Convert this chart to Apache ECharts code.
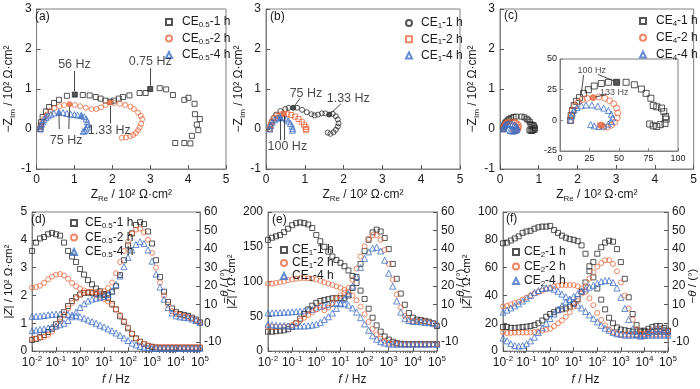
<!DOCTYPE html>
<html><head><meta charset="utf-8">
<script src="https://cdn.jsdelivr.net/npm/echarts@6.0.0/dist/echarts.min.js"></script>
<style>html,body{margin:0;padding:0;background:#fff}#c{width:700px;height:389px}</style>
</head><body><div id="c"></div>
<script>
// ---------------- DATA ----------------
// Nyquist (a) CE0.5 : [Z_Re, -Z_Im] in 10^2 ohm cm2
const nyqA1 = [[0.1,0.0],[0.11,0.08],[0.12,0.17],[0.16,0.3],[0.25,0.44],[0.33,0.55],[0.46,0.65],[0.59,0.73],[0.8,0.83],[1.22,0.85],[1.4,0.84],[1.56,0.8],[1.69,0.76],[1.82,0.71],[1.95,0.68],[2.04,0.71],[2.17,0.76],[2.28,0.8],[2.45,0.84],[2.72,0.9],[2.88,0.9],[3.25,1.02],[3.42,0.99],[3.6,0.85],[3.9,0.73],[4.01,0.78],[4.17,0.63],[4.18,0.37],[4.31,0.25],[4.23,0.11],[4.27,-0.03],[4.1,-0.17],[4.06,-0.36],[3.9,-0.35],[3.66,-0.35]];
const nyqA2 = [[0.1,0],[0.12,0.08],[0.15,0.16],[0.2,0.26],[0.27,0.36],[0.36,0.45],[0.47,0.52],[0.6,0.57],[0.73,0.6],[1.01,0.6],[1.15,0.57],[1.3,0.53],[1.45,0.5],[1.58,0.5],[1.7,0.54],[1.82,0.6],[2.04,0.65],[2.2,0.63],[2.34,0.6],[2.48,0.56],[2.57,0.5],[2.68,0.41],[2.75,0.33],[2.79,0.25],[2.76,0.13],[2.72,0.04],[2.68,-0.03],[2.62,-0.1],[2.55,-0.15],[2.47,-0.18],[2.36,-0.21],[2.25,-0.22]];
const nyqA3 = [[0.1,0],[0.11,0.06],[0.13,0.12],[0.16,0.18],[0.2,0.24],[0.25,0.29],[0.31,0.33],[0.38,0.37],[0.46,0.4],[0.7,0.41],[0.8,0.39],[0.9,0.37],[1.0,0.36],[1.08,0.35],[1.26,0.31],[1.31,0.25],[1.34,0.18],[1.35,0.11],[1.34,0.05],[1.31,0.0],[1.27,-0.04],[1.23,-0.06]];
const markA1 = [[1.01,0.86],[3.0,1.0]];
const markA2 = [[0.87,0.62],[1.93,0.66]];
const markA3 = [[0.59,0.42],[1.18,0.34]];
// Nyquist (b) CE1
const nyqB1 = [[0.1,0],[0.11,0.08],[0.14,0.17],[0.19,0.27],[0.26,0.36],[0.37,0.45],[0.5,0.5],[0.58,0.53],[0.8,0.53],[0.93,0.48],[1.05,0.42],[1.17,0.37],[1.25,0.34],[1.34,0.36],[1.44,0.39],[1.53,0.39],[1.72,0.38],[1.8,0.32],[1.85,0.24],[1.87,0.14],[1.85,0.06],[1.8,-0.02],[1.74,-0.08],[1.66,-0.12],[1.59,-0.09]];
const nyqB2 = [[0.1,0],[0.12,0.1],[0.16,0.19],[0.22,0.27],[0.29,0.33],[0.37,0.36],[0.55,0.37],[0.65,0.35],[0.75,0.31],[0.84,0.25],[0.92,0.18],[0.98,0.11],[1.02,0.05],[1.04,0.0],[1.03,-0.03]];
const nyqB3 = [[0.1,0],[0.12,0.09],[0.16,0.17],[0.22,0.23],[0.3,0.27],[0.45,0.28],[0.52,0.25],[0.58,0.2],[0.63,0.14],[0.67,0.07],[0.69,0.01],[0.68,-0.03]];
const markB1 = [[0.7,0.53],[1.63,0.36]];
const markB2 = [[0.46,0.38]];
const markB3 = [[0.37,0.29]];
// Nyquist (c) CE4 : in ohm cm2 (shown /100 on main axes, raw in inset)
const nyqC1 = [[9,0],[9.5,4],[10.5,8],[12,12],[14,15.5],[16.5,18.5],[20,22],[24,25],[29,28],[35,30],[41,31],[56,31],[63,29],[69,25.5],[73,22],[77,18],[79,12],[82,11],[86,10],[88,7],[89.5,3],[90,1],[89,-2.5],[85,-3.5],[82,-5],[79,-4.5],[76,-3]];
const nyqC2 = [[9,0],[9.5,4],[10.5,8],[12.5,12],[15.5,15],[19,17],[23,18],[33,19],[38,18],[42,16],[45.5,13.5],[48,10],[49,6],[48.5,2],[46.5,-1.5],[43.5,-4],[40,-5.5],[37,-5.5],[34,-4]];
const nyqC3 = [[9,0],[9.5,3],[10.5,6],[12,8.5],[14.5,10.5],[18,12],[22,12.5],[27,12.5],[32,11.5],[37,10],[41,8],[43.5,5],[44.5,2],[43.5,-1],[41,-3],[37,-4.5],[33,-5],[29,-4.5],[26,-3.5]];
const markC1 = [[48,31]];
const markC2 = [[28,18.5],[35,-4]];

// Bode: frequencies (Hz)
const freqs = [0.01,0.0147,0.0215,0.0316,0.0464,0.0681,0.1,0.147,0.215,0.316,0.464,0.681,1,1.47,2.15,3.16,4.64,6.81,10,14.7,21.5,31.6,46.4,68.1,100,147,215,316,464,681,1000,1470,2150,3160,4640,6810,10000,14700,21500,31600,46400,68100,100000];
const decades = [0.01,0.1,1,10,100,1000,10000,100000];
// (d) CE0.5 : |Z| in 10^2 ohm cm2, phase in deg
const dZ1 = [3.6,3.9,4.05,4.1,4.2,4.25, 4.2,4.15,3.9,3.6,3.4,3.2, 2.95,2.75,2.55,2.4,2.25,2.15, 2.05,1.9,1.7,1.5,1.25,1.05, 0.82,0.62,0.46,0.34,0.25,0.19, 0.15,0.13,0.12,0.12,0.12,0.12, 0.12,0.12,0.12,0.12,0.12,0.12, 0.12];
const dP1 = [-9,-8.5,-7.5,-6.3,-4.7,-3, -0.5,2.5,6,9.3,12,14, 15.5,16.3,16.5,16.5,16,15.5, 15.3,15.5,17,20,26,34, 42,48.5,53,54.5,53.5,49.5, 43,34,25,17,11.5,8, 6,5,4.5,4,3,2, 0.5];
const dZ2 = [2.28,2.3,2.35,2.45,2.58,2.68, 2.75,2.77,2.72,2.6,2.45,2.33, 2.25,2.18,2.12,2.07,2.02,1.95, 1.88,1.78,1.65,1.5,1.3,1.08, 0.85,0.63,0.46,0.34,0.26,0.2, 0.17,0.16,0.15,0.15,0.15,0.15, 0.15,0.15,0.15,0.15,0.15,0.15, 0.15];
const dP2 = [-8.5,-8.2,-7.8,-7.3,-6.3,-4.5, -2,1,4.5,8,11,13.5, 15.5,16.5,17,17,16.8,16.8, 17.3,19,22,27,33,39, 44,48.5,50.5,51,49,45, 38,30,22,15,10,6.5, 5,4.5,4,3.5,2.5,1.5, 0.5];
const dZ3 = [1.25,1.25,1.26,1.28,1.3,1.32, 1.33,1.33,1.33,1.32,1.3,1.27, 1.23,1.18,1.12,1.06,1.0,0.93, 0.87,0.8,0.73,0.65,0.57,0.47, 0.38,0.29,0.22,0.17,0.14,0.12, 0.11,0.1,0.1,0.1,0.1,0.1, 0.1,0.1,0.1,0.1,0.1,0.1, 0.1];
const dP3 = [-4,-3.7,-3.3,-3,-2.5,-2, -1.5,-0.8,0,1.5,3.5,6, 8.5,10.5,12,13,13.5,14, 14.5,15.5,17.5,21,25.5,30.5, 35.5,39.5,42.5,44,43,39.5, 33.5,26.5,19.5,13,8.5,5.5, 4,3.5,3.2,3,2.3,1.5, 0.5];
// (e) CE1 : |Z| in ohm cm2
const eZ1 = [160,163,165,167,171,176, 181,184,185,184,182,177, 167,158,150,143,136,131, 127,122,116,108,98,87, 75,61,48,37,28,21, 16.5,13.5,11.5,10.5,10,10, 10,10,10,10,10,10, 10];
const eP1 = [-4.5,-4.5,-4.3,-4,-3.8,-3.2, -2,0,2.5,5,7.5,9.5, 11,12,12.5,13,13.5,13.5, 13.5,13.5,15,19,25,32, 39,45,49,50.5,49.5,46, 40,32,24,16,10,5.5, 3,2,1.7,1.3,0.8,0, -1.5];
const eZ2 = [97,97,98,99,100,102, 103,104,105,105,104.5,104, 103,101,99,97,95,93, 91,88,85,80,73,64, 53,42,32,24,18,14, 12,11,10.5,10,10,10, 10,10,10,10,10,10, 10];
const eP2 = [-2,-2,-2,-2,-1.8,-1.5, -1,0,1.5,3,4.5,6, 7.5,9.5,7,8.5,11,13.5, 15,16.5,19,23.5,29.5,36, 41.5,45.5,47.5,47.5,45,39.5, 32,23.5,15.5,8.5,4,2, 1.2,1,1,0.8,0.5,0, -1];
const eZ3 = [55,55,55,55.5,56,56, 56.5,57,57.5,58,59,60, 62,64,66,67.5,68.5,69, 69,68,66,62,56,48, 39,30,22,17,13.5,11.5, 10.5,10,10,10,10,10, 10,10,10,10,10,10, 10];
const eP3 = [-0.5,-0.8,-1,-1.2,-1.3,-1.5, -1.5,-1.5,-1.5,-1.5,-1.3,-1, -0.5,0.5,2,3.5,5.5,8, 10.5,13,16,20,25,30, 35,38.5,40.5,41,39,34, 27,20,12,6,2.5,1.5, 1,1,0.8,0.5,0.3,0, -0.5];
// (f) CE2 : |Z| in ohm cm2
const fZ1 = [77.5,78,79.5,81,82.5,85, 86,86.5,88,89,89.5,89.5, 90,87,85,83,81.5,80.5, 80,79,76,70,61,53, 45,37,30,24,20,17, 15.5,15,14.5,14,14,14, 14,14,14,14,14,14, 14];
const fP1 = [-2,-2,-2.5,-2.5,-2.3,-2, -1.8,-1.5,-1,0,1.5,3.5, 5,6,7,7.5,8,9, 10.5,13,17,22,28,33, 37.5,41,43.5,44.5,44,40, 33,24,14,5,-1,-4, -4,-3,-2,-1.5,-1.5,-2.5, -4];
const fZ2 = [32,32.5,33.5,34.5,35.5,37, 38.5,40,41.5,42.5,43.5,44.5, 45.5,46.5,47,47.5,47.5,47.5, 47.5,46.5,45,42.5,38,33, 27.5,22.5,18.5,15.5,13.5,12.5, 12,12,12,12,12,12, 12,12,12,12,12,12, 12];
const fP2 = [-5,-5.3,-5.2,-5,-5,-5, -5,-5,-4.8,-4.5,-4,-3.5, -3,-1.5,0,1.5,3.5,6, 9,12,16,20,24,27.5, 30.5,32.5,34,34,32,28, 22,15,8,2,-3,-5.5, -6,-5,-4,-3,-3,-3.5, -4.5];
const fZ3 = [28,29.5,31,32.5,34,36, 38,40,42,43.5,45,45.5, 45.5,44.5,43,41,39,37, 35,33,31,28.5,26,23.5, 21,18.5,16.5,15,13.5,12.5, 12,11.5,11.5,11.5,11.5,11.5, 11.5,11.5,11.5,11.5,11.5,11.5, 11.5];
const fP3 = [-8,-9.5,-11,-12,-12.3,-12, -11,-9.5,-7.5,-5,-2.5,0, 2.5,5,7.5,9.5,11.5,13, 14.5,16,17.5,18.5,19.5,20.5, 21.5,22.5,23,23,22,19, 14,8,2,-3,-6,-7, -6.5,-5,-4,-3,-3,-3.5, -4.5];

// annotations: [text, x, y] and arrows [x1,y1,x2,y2]
const annA = [['56 Hz',1.0,1.6],['0.75 Hz',3.0,1.68],['75 Hz',0.78,-0.29],['1.33 Hz',1.92,-0.03]];
const arrA = [[1.0,1.45,1.0,0.95],[3.0,1.52,3.0,1.08],[0.6,0.0,0.59,0.36],[0.85,0.0,0.87,0.56],[1.94,0.14,1.94,0.58]];
const annB = [['75 Hz',1.03,0.88],['1.33 Hz',2.12,0.75],['100 Hz',0.55,-0.45]];
const arrB = [[0.88,0.77,0.74,0.58],[1.93,0.63,1.68,0.4],[0.37,-0.28,0.37,0.24],[0.47,-0.28,0.46,0.33]];
const annC = [['100 Hz',27,41],['133 Hz',46,23]];
const lineC = [[32,37.5,46,32],[20,37,18,21],[39,21,30,19]];

// ---------------- STYLE / BUILD ----------------
const FONT = 'Liberation Sans, Arial, sans-serif';
const INK = '#1a1a1a', AX = '#808080';
const K = '#2a2a2a', O = '#e8693f', B = '#3e6fc6';
const TICK = 12, TITLE = 12, BTITLE = 11.5;

function rich(size, gap){
  const s = Math.round(size*0.68);
  return {
    s:{fontSize:s, lineHeight:s, verticalAlign:'bottom', fontFamily:FONT, color:INK},
    p:{fontSize:s, lineHeight:s, verticalAlign:'top', fontFamily:FONT, color:INK},
    i:{fontSize:size, fontStyle:'italic', fontFamily:FONT, color:INK},
    g:{width:gap||0, height:1}
  };
}
function tstyle(size){ return {fontSize:size, fontFamily:FONT, color:INK, lineHeight:size+4, rich:rich(size)}; }

const grids = [
  {left:30, top:9, width:196, height:160},
  {left:266, top:9, width:194, height:160},
  {left:500, top:9, width:195, height:160},
  {left:560, top:59, width:118, height:92, backgroundColor:'#fff'},
  {left:27, top:212, width:173, height:148},
  {left:268, top:212, width:169, height:148},
  {left:503, top:212, width:165, height:148}
].map(g => Object.assign({show:true, borderColor:AX, borderWidth:1}, g));

function valAxis(gi, min, max, interval, extra){
  return Object.assign({
    type:'value', gridIndex:gi, min, max, interval,
    axisLine:{show:true, onZero:false, lineStyle:{color:AX}},
    axisTick:{show:true, inside:true, length:4, lineStyle:{color:'#555'}},
    splitLine:{show:false},
    axisLabel:{fontSize:TICK, fontFamily:FONT, color:INK, margin:5},
    nameLocation:'middle', nameTextStyle:tstyle(TITLE)
  }, extra || {});
}
const minorVals = [];
decades.slice(0,7).forEach(d => { for (let k=2;k<=9;k++) minorVals.push(d*k); });
function logAxis(gi, extra){
  return Object.assign({
    type:'log', logBase:10, gridIndex:gi, min:0.01, max:100000,
    axisLine:{show:true, onZero:false, lineStyle:{color:AX}},
    axisTick:{show:true, inside:true, length:4, customValues:decades, lineStyle:{color:'#555'}},
    splitLine:{show:false},
    axisLabel:{customValues:decades, fontSize:TICK, fontFamily:FONT, color:INK, margin:4, lineHeight:16,
      formatter: v => '10{p|' + Math.round(Math.log10(v)) + '}', rich:rich(TICK)},
    name:'{i|f} / Hz', nameLocation:'middle', nameGap:12, nameTextStyle:tstyle(TITLE)
  }, extra || {});
}
function minorAxis(gi){
  return {type:'log', logBase:10, gridIndex:gi, min:0.01, max:100000,
    axisLine:{show:false}, splitLine:{show:false}, axisLabel:{show:false},
    axisTick:{show:true, inside:true, length:2, customValues:minorVals, lineStyle:{color:'#666'}}};
}
const phaseTicks = [-10,0,10,20,30,40,50,60];
function phaseAxis(gi){
  return valAxis(gi, -15, 60, null, {position:'right', interval:undefined,
    axisTick:{show:true, inside:true, length:4, customValues:phaseTicks, lineStyle:{color:'#555'}},
    axisLabel:{customValues:phaseTicks, fontSize:TICK, fontFamily:FONT, color:INK, margin:4}});
}
const div100 = {fontSize:TICK, fontFamily:FONT, color:INK, margin:5, formatter:v=>String(v/100)};

const xAxis = [
  valAxis(0, 0, 5, 1, {name:'Z{s|Re} / 10² Ω·cm²', nameGap:12}),
  valAxis(1, 0, 5, 1, {name:'Z{s|Re} / 10² Ω·cm²', nameGap:12}),
  valAxis(2, 0, 500, 100, {name:'Z{s|Re} / 10² Ω·cm²', nameGap:12, axisLabel:div100}),
  valAxis(3, 0, 100, 25, {axisLabel:{fontSize:9, fontFamily:FONT, color:INK, margin:3}, axisTick:{show:true, inside:true, length:3}}),
  logAxis(4), logAxis(5), logAxis(6),
  minorAxis(4), minorAxis(5), minorAxis(6)
];
const yAxis = [
  valAxis(0, -1, 3, 1, {name:'−Z{s|Im} / 10² Ω·cm²', nameRotate:90, nameGap:14}),
  valAxis(1, -1, 3, 1, {name:'−Z{s|Im} / 10² Ω·cm²', nameRotate:90, nameGap:14}),
  valAxis(2, -100, 300, 100, {name:'−Z{s|Im} / 10² Ω·cm²', nameRotate:90, nameGap:14, axisLabel:div100}),
  valAxis(3, -25, 50, 25, {axisLabel:{fontSize:9, fontFamily:FONT, color:INK, margin:3}, axisTick:{show:true, inside:true, length:3}}),
  valAxis(4, 0, 5, 1, {name:'|{i|Z}| / 10² Ω·cm²', nameRotate:90, nameGap:13, nameTextStyle:tstyle(BTITLE)}),
  phaseAxis(4),
  valAxis(5, 0, 200, 50, {name:'|{i|Z}| / Ω·cm²', nameRotate:90, nameGap:23, nameTextStyle:tstyle(BTITLE)}),
  phaseAxis(5),
  valAxis(6, 0, 100, 20, {name:'|{i|Z}| / Ω·cm²', nameRotate:90, nameGap:23, nameTextStyle:tstyle(BTITLE)}),
  phaseAxis(6)
];

const series = [];
function hollow(name, sym, color, xi, yi, data, size){
  series.push({type:'scatter', name, xAxisIndex:xi, yAxisIndex:yi, symbol:sym, symbolSize:size||5,
    itemStyle:{color:'rgba(255,255,255,0)', borderColor:color, borderWidth:1}, data, silent:true, z:2});
}
function filled(sym, color, xi, yi, data, size){
  series.push({type:'scatter', name:'_m', xAxisIndex:xi, yAxisIndex:yi, symbol:sym, symbolSize:size||5,
    itemStyle:{color, borderColor:color, borderWidth:1}, data, silent:true, z:4});
}
function annot(xi, yi, texts, arrows, size, arrow){
  series.push({type:'scatter', name:'_a', xAxisIndex:xi, yAxisIndex:yi, symbolSize:1, silent:true, z:5,
    itemStyle:{color:'rgba(0,0,0,0)'},
    data: texts.map(t => ({value:[t[1],t[2]], name:t[0]})),
    label:{show:true, position:'inside', formatter:'{b}', fontSize:size, fontFamily:FONT, color:INK},
    markLine:{silent:true, animation:false, symbol: arrow ? ['none','arrow'] : ['none','none'], symbolSize:[0,5],
      lineStyle:{color:INK, width:0.8, type:'solid'}, label:{show:false}, emphasis:{disabled:true},
      data: arrows.map(a => [{coord:[a[0],a[1]]},{coord:[a[2],a[3]]}])}
  });
}
const bode = arr => freqs.map((f,i) => [f, arr[i]]);

// (a)
hollow('CE0.5-1 h','rect',K,0,0,nyqA1); hollow('CE0.5-2 h','circle',O,0,0,nyqA2); hollow('CE0.5-4 h','triangle',B,0,0,nyqA3,6);
filled('rect',K,0,0,markA1); filled('circle',O,0,0,markA2); filled('triangle',B,0,0,markA3,6);
annot(0,0,annA,arrA,12.5,true);
// (b)
hollow('CE1-1 h','circle',K,1,1,nyqB1); hollow('CE1-2 h','rect',O,1,1,nyqB2); hollow('CE1-4 h','triangle',B,1,1,nyqB3,6);
filled('circle',K,1,1,markB1); filled('rect',O,1,1,markB2); filled('triangle',B,1,1,markB3,6);
annot(1,1,annB,arrB,12.5,true);
// (c) main + inset
hollow('CE4-1 h','rect',K,2,2,nyqC1); hollow('CE4-2 h','circle',O,2,2,nyqC2); hollow('CE4-4 h','triangle',B,2,2,nyqC3,6);
hollow('CE4-1 h','rect',K,3,3,nyqC1,6); hollow('CE4-2 h','circle',O,3,3,nyqC2,6); hollow('CE4-4 h','triangle',B,3,3,nyqC3,6);
filled('rect',K,3,3,markC1,6); filled('circle',O,3,3,markC2,6);
annot(3,3,annC,lineC,9,false);
// (d)
hollow('CE0.5-1 h','rect',K,4,4,bode(dZ1)); hollow('CE0.5-2 h','circle',O,4,4,bode(dZ2)); hollow('CE0.5-4 h','triangle',B,4,4,bode(dZ3),6);
hollow('CE0.5-1 h','rect',K,4,5,bode(dP1)); hollow('CE0.5-2 h','circle',O,4,5,bode(dP2)); hollow('CE0.5-4 h','triangle',B,4,5,bode(dP3),6);
// (e)
hollow('CE1-1 h','rect',K,5,6,bode(eZ1)); hollow('CE1-2 h','circle',O,5,6,bode(eZ2)); hollow('CE1-4 h','triangle',B,5,6,bode(eZ3),6);
hollow('CE1-1 h','rect',K,5,7,bode(eP1)); hollow('CE1-2 h','circle',O,5,7,bode(eP2)); hollow('CE1-4 h','triangle',B,5,7,bode(eP3),6);
// (f)
hollow('CE2-1 h','rect',K,6,8,bode(fZ1)); hollow('CE2-2 h','circle',O,6,8,bode(fZ2)); hollow('CE2-4 h','triangle',B,6,8,bode(fZ3),6);
hollow('CE2-1 h','rect',K,6,9,bode(fP1)); hollow('CE2-2 h','circle',O,6,9,bode(fP2)); hollow('CE2-4 h','triangle',B,6,9,bode(fP3),6);

function legend(names, icons, left, top, gap, rowGap){
  return {orient:'vertical', left, top, itemWidth:6, itemHeight:6, itemGap:rowGap, selectedMode:false,
    data: names.map((n,i) => ({name:n, icon:icons[i]})),
    formatter: n => '{g|}' + n.replace(/CE([\d.]+)-/, 'CE{s|$1}-'),
    textStyle:{fontSize:12, fontFamily:FONT, color:INK, lineHeight:14, rich:rich(12, gap)}};
}
const RCT = ['rect','circle','triangle'], CRT = ['circle','rect','triangle'];
const legends = [
  legend(['CE0.5-1 h','CE0.5-2 h','CE0.5-4 h'], RCT, 160, 10, 5, 2.5),
  legend(['CE1-1 h','CE1-2 h','CE1-4 h'], CRT, 400, 11, 4, 2.2),
  legend(['CE4-1 h','CE4-2 h','CE4-4 h'], RCT, 634, 9, 5, 2.8),
  legend(['CE0.5-1 h','CE0.5-2 h','CE0.5-4 h'], RCT, 65, 211, 3, 0.5),
  legend(['CE1-1 h','CE1-2 h','CE1-4 h'], RCT, 275, 238, 0, -1),
  legend(['CE2-1 h','CE2-2 h','CE2-4 h'], RCT, 507, 240, 0, 0.5)
];

const panelLabels = [['(a)',35,11],['(b)',270,11],['(c)',504,10],['(d)',31,214],['(e)',272,214],['(f)',506,213]];
const graphic = panelLabels.map(p => ({type:'text', left:p[1], top:p[2], z:10,
  style:{text:p[0], font:'12px ' + FONT, fill:INK}}));
// right-hand phase axis titles
[225, 461, 693].forEach(x => graphic.push({type:'text', x, y:286, rotation:Math.PI/2, z:10,
  style:{text:'−{i|θ} / (°)', fontSize:BTITLE, fontFamily:FONT, fill:INK, align:'center', verticalAlign:'middle',
    rich:{i:{fontSize:BTITLE, fontStyle:'italic', fontFamily:FONT, fill:INK}}}}));

const chart = echarts.init(document.getElementById('c'), null, {renderer:'canvas'});
chart.setOption({animation:false, backgroundColor:'#fff', grid:grids, xAxis, yAxis, series, legend:legends, graphic});
</script></body></html>
